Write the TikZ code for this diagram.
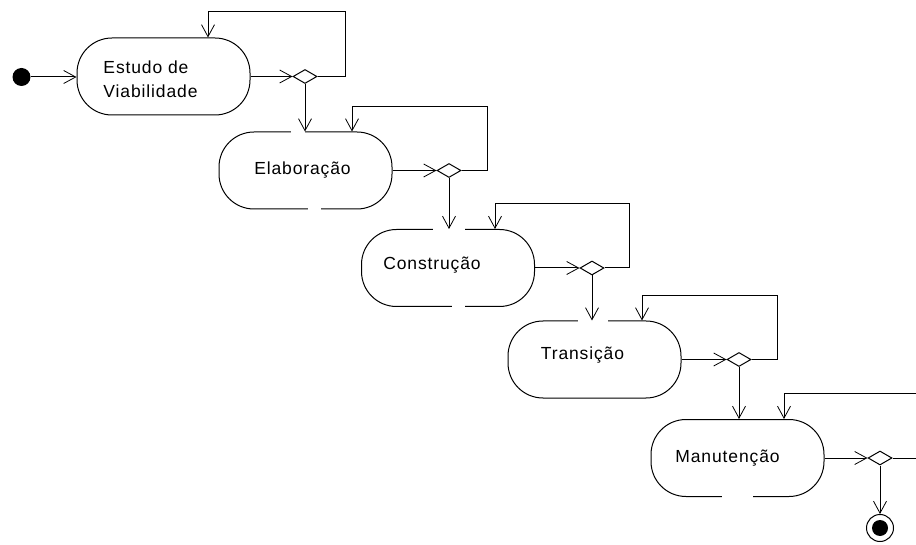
\documentclass[tikz,border=0pt]{standalone}
\usepackage{fontspec}
\setmainfont{Liberation Sans}[LetterSpace=5]
\usetikzlibrary{arrows.meta,shapes.geometric,calc}
\begin{document}
\begin{tikzpicture}[x=1pt,y=-1pt,
  line width=1pt,
  statebox/.style={draw, rectangle, rounded corners=35pt,
    minimum width=173pt, minimum height=77pt, inner sep=0pt},
  statetext/.style={font=\fontsize{17.5}{24}\selectfont, align=left, inner sep=0pt},
  choice/.style={draw, diamond, minimum width=24pt, minimum height=14pt, inner sep=0pt, fill=white},
  flow/.style={-{Straight Barb[length=12pt,width=13pt,line width=0.8pt]}},
  gapmask/.style={fill=white},
]
\path[use as bounding box, clip] (0,0) rectangle (916,545);

% activity states
\node[statebox, label={[statetext, xshift=-13pt, yshift=-3pt]center:Estudo de\\Viabilidade}] (s1) at (163.5,76.5) {};
\node[statebox, label={[statetext, xshift=-3pt]center:Elaboração}] (s2) at (305.5,170.5) {};
\node[statebox, label={[statetext, xshift=-16pt, yshift=3pt]center:Construção}] (s3) at (448,268) {};
\node[statebox, label={[statetext, xshift=-12pt, yshift=4pt]center:Transição}] (s4) at (594.5,359.5) {};
\node[statebox, label={[statetext, xshift=-10pt]center:Manutenção}] (s5) at (737.5,458) {};

% breaks in the outlines
\fill[gapmask] (291,129) rectangle (305,135);
\fill[gapmask] (308,206) rectangle (321,212);
\fill[gapmask] (433,226) rectangle (465,232);
\fill[gapmask] (452,304) rectangle (465,310);
\fill[gapmask] (578,318) rectangle (608,324);
\fill[gapmask] (722,494) rectangle (753,500);

% decision points
\node[choice] (d1) at (305,76.5) {};
\node[choice] (d2) at (449,170.5) {};
\node[choice] (d3) at (592,268) {};
\node[choice] (d4) at (739,359.5) {};
\node[choice] (d5) at (880,458) {};

% initial and final states
\node[circle, fill=black, minimum size=18pt, inner sep=0pt] (start) at (21.5,77) {};
\node[circle, draw, minimum size=27pt, inner sep=0pt] (stop) at (880,528) {};
\fill (stop.center) circle (8pt);

% transitions
\draw[flow] (start.east) -- (start.east -| s1.west);

\draw[flow] (s1.east) -- (d1.west);
\draw[flow] (s2.east) -- (d2.west);
\draw[flow] (s3.east) -- (d3.west);
\draw[flow] (s4.east) -- (d4.west);
\draw[flow] (s5.east) -- (d5.west);

\draw[flow] (d1.south) -- (d1.south |- s2.north);
\draw[flow] (d2.south) -- (d2.south |- s3.north);
\draw[flow] (d3.south) -- (d3.south |- s4.north);
\draw[flow] (d4.south) -- (d4.south |- s5.north);
\draw[flow] (d5.south) -- (stop.north);

% repeat loops
\draw[flow] (d1.east) -- ++(28,0) |- ($(s1.north)+(44.5,-26)$) -- ($(s1.north)+(44.5,0)$);
\draw[flow] (d2.east) -- ++(26,0) |- ($(s2.north)+(46.5,-25)$) -- ($(s2.north)+(46.5,0)$);
\draw[flow] (d3.east) -- ++(25,0) |- ($(s3.north)+(47,-25)$) -- ($(s3.north)+(47,0)$);
\draw[flow] (d4.east) -- ++(26,0) |- ($(s4.north)+(47.5,-25)$) -- ($(s4.north)+(47.5,0)$);
\draw[flow] (d5.east) -- ++(60,0) |- ($(s5.north)+(46.5,-26)$) -- ($(s5.north)+(46.5,0)$);
\end{tikzpicture}
\end{document}
